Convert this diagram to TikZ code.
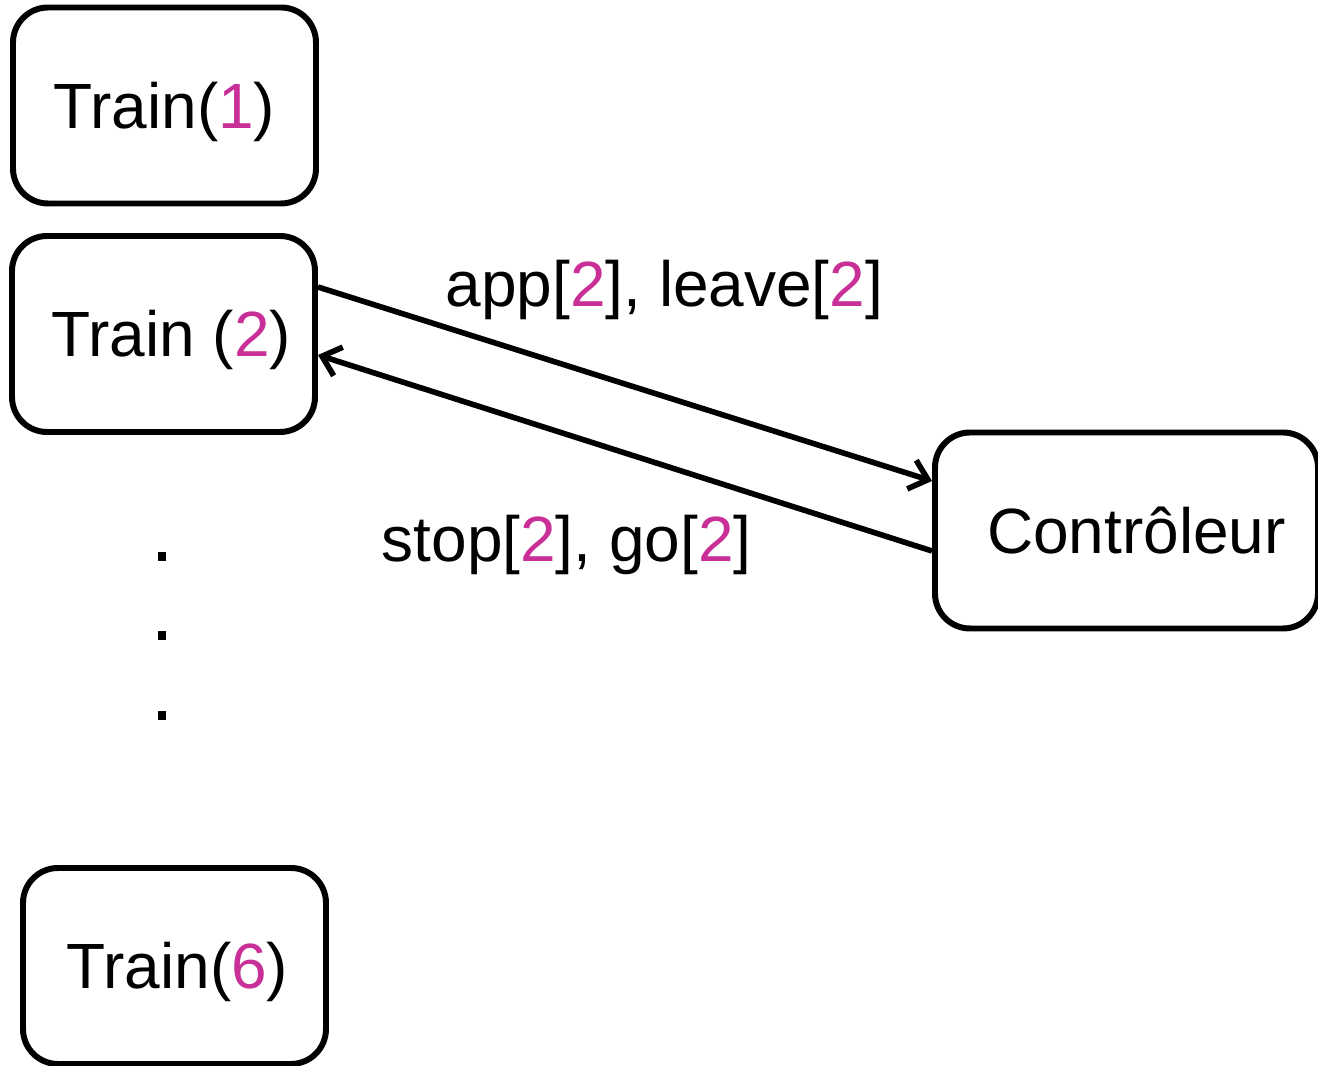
\documentclass[tikz,border=0pt]{standalone}
\usepackage{fontspec}
\setmainfont{Liberation Sans}
\usetikzlibrary{arrows.meta}
\definecolor{idx}{RGB}{200,48,152}
\begin{document}
\begin{tikzpicture}[
  proc/.style={draw, line width=1.7pt, rounded corners=0.35cm,
    minimum width=3.03cm, minimum height=1.96cm, inner sep=0pt,
    font=\fontsize{18.2}{20}\selectfont, text height=0.46cm, text depth=0pt},
  msg/.style={font=\fontsize{18.2}{20}\selectfont, inner sep=0pt, anchor=base west},
  link/.style={line width=1.6pt, -{Straight Barb[length=0.17cm, width=0.3cm, line width=1.6pt]}},
  dot/.style={fill, inner sep=0pt, minimum size=0.09cm}
]
\useasboundingbox (0,0) rectangle (13.18,-10.66);

% processes
\node[proc] (t1) at (1.645,-1.055) {Train(\textcolor{idx}{1})};
\node[proc] (t2) at (1.635,-3.34) {\hspace{0.16cm}Train (\textcolor{idx}{2})};
\node[proc] (t6) at (1.745,-9.66) {\hspace{0.06cm}Train(\textcolor{idx}{6})};
\node[proc, minimum width=3.83cm] (ctrl) at (11.265,-5.305) {\hspace{0.2cm}Contrôleur};

% elided trains
\node[dot] (d1) at (1.62,-5.57) {};
\node[dot] (d2) at (1.62,-6.36) {};
\node[dot] (d3) at (1.62,-7.16) {};

% channels
\draw[link] ([yshift=0.47cm]t2.east) -- ([yshift=0.495cm]ctrl.west);
\draw[link] ([yshift=-0.205cm]ctrl.west) -- ([yshift=-0.21cm]t2.east);

% channel labels
\node[msg] (lup) at (4.45,-3.07) {app[\textcolor{idx}{2}], leave[\textcolor{idx}{2}]};
\node[msg] (ldown) at (3.81,-5.62) {stop[\textcolor{idx}{2}], go[\textcolor{idx}{2}]};
\end{tikzpicture}
\end{document}
